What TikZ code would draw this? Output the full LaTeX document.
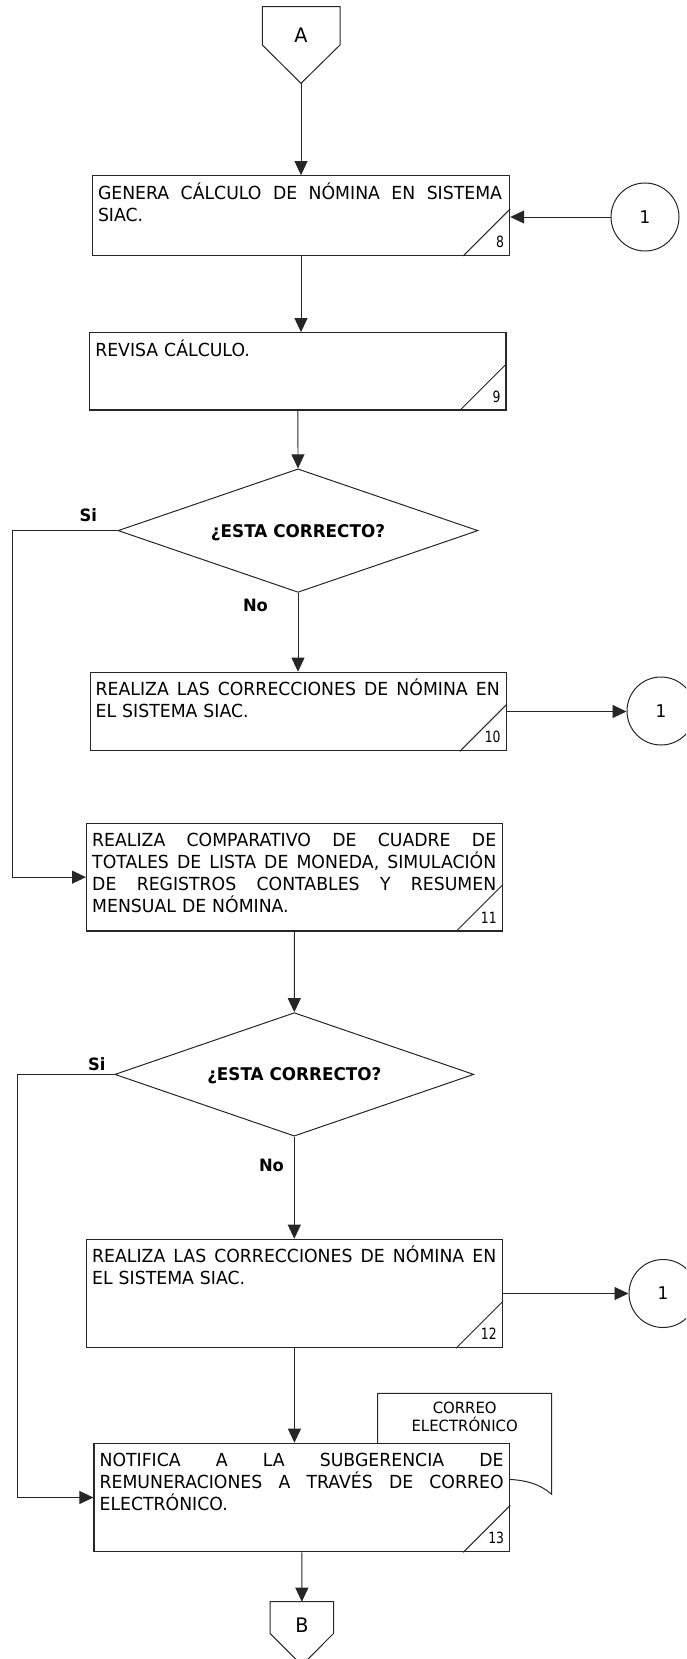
\documentclass[tikz,border=0pt]{standalone}
\usepackage{fontspec}
\setmainfont{DejaVu Sans}[FakeStretch=0.96]
\newfontfamily\numfont{DejaVu Sans}[FakeStretch=0.8]
\usetikzlibrary{arrows.meta,shapes.geometric}

\tikzset{
  ln/.style={line width=1pt, draw=black!85},
  arr/.style={line width=0.9pt, draw=black!85, -{Triangle[length=14pt,width=13pt]}},
  stepbox/.style={line width=1.2pt, draw=black!85, rectangle, fill=white, inner sep=0pt},
  decision/.style={ln, diamond, fill=white, inner sep=0pt},
  conn/.style={ln, circle, minimum size=68pt, inner sep=0pt, font=\fontsize{17.5}{20}\selectfont},
  boxtext/.style={anchor=north west, inner sep=0pt, align=left, text width=404pt,
                  font=\fontsize{18}{22}\selectfont},
  stepno/.style={anchor=base east, inner sep=0pt, font=\numfont\fontsize{15.5}{17}\selectfont},
  question/.style={anchor=base, inner sep=0pt, font=\bfseries\fontsize{17.5}{20}\selectfont},
  answer/.style={anchor=base, inner sep=0pt, font=\bfseries\fontsize{17}{20}\selectfont},
  letter/.style={anchor=base, inner sep=0pt, font=\fontsize{20}{24}\selectfont},
  doctext/.style={inner sep=0pt, align=center, font=\fontsize{15.5}{17.5}\selectfont},
}

% justified line of a step text (words separated by \hfill)
\newcommand\jl[1]{\leavevmode\hbox to 404pt{#1}}
% process box: name, left, top, right, bottom, step number, text
\newcommand\procbox[7]{%
  \node[stepbox, minimum width={(#4-#2)*1pt}, minimum height={(#5-#3)*1pt}]
    (#1) at ({(#2+#4)/2},{(#3+#5)/2}) {};
  \draw[ln] ([xshift=-47pt]#1.south east) -- ([yshift=47pt]#1.south east);
  \node[stepno] (#1n) at ([xshift=-6pt,yshift=8.5pt]#1.south east) {#6};
  \node[boxtext] (#1t) at ([xshift=6pt,yshift=-6pt]#1.north west)
    {\noindent\rule{0pt}{18pt}#7};
}

\begin{document}
\begin{tikzpicture}[x=1pt,y=-1pt]
\useasboundingbox (0,0) rectangle (686,1659);
\clip (0,0) rectangle (686,1659);

% off-page connector A
\draw[ln] (262.3,6.7) -- (340,6.7) -- (340,45) -- (301,83.3) -- (262.3,45) -- cycle;
\node[letter] (A) at (301,42.7) {A};
\coordinate (Atip) at (301,83.3);

% steps 8 and 9
\procbox{b8}{92.4}{175.7}{509.6}{255.3}{8}{\jl{GENERA\hfill CÁLCULO\hfill DE\hfill NÓMINA\hfill EN\hfill SISTEMA}\\SIAC.}
\procbox{b9}{89.7}{332.7}{506}{410}{9}{REVISA CÁLCULO.}

\node[conn] (c1) at (645,217) {1};

% first decision
\node[decision, minimum width=360pt, minimum height=123.5pt] (d1) at (298,530.6) {};
\node[question] (q1) at ([yshift=-6.5pt]d1.center) {¿ESTA CORRECTO?};
\node[answer] (si1) at (88.3,521.7) {Si};
\node[answer] (no1) at (255.5,611.7) {No};

\procbox{b10}{90.1}{672.3}{506.2}{750.7}{10}{\jl{REALIZA\hfill LAS\hfill CORRECCIONES\hfill DE\hfill NÓMINA\hfill EN}\\EL SISTEMA SIAC.}
\node[conn] (c2) at (661,711) {1};

\procbox{b11}{86.6}{823.3}{502.3}{931}{11}{\jl{REALIZA\hfill COMPARATIVO\hfill DE\hfill CUADRE\hfill DE}\\\jl{TOTALES\hfill DE\hfill LISTA\hfill DE\hfill MONEDA,\hfill SIMULACIÓN}\\\jl{DE\hfill REGISTROS\hfill CONTABLES\hfill Y\hfill RESUMEN}\\MENSUAL DE NÓMINA.}

% second decision
\node[decision, minimum width=359pt, minimum height=123.5pt] (d2) at (294.3,1074.4) {};
\node[question] (q2) at ([yshift=-6.5pt]d2.center) {¿ESTA CORRECTO?};
\node[answer] (si2) at (96.7,1070) {Si};
\node[answer] (no2) at (271.5,1171) {No};

\procbox{b12}{86.6}{1239.3}{502.3}{1347.7}{12}{\jl{REALIZA\hfill LAS\hfill CORRECCIONES\hfill DE\hfill NÓMINA\hfill EN}\\EL SISTEMA SIAC.}
\node[conn] (c3) at (663,1293.5) {1};

% document symbol behind step 13
\draw[ln, fill=white] (377.7,1393.3) -- (551.7,1393.3) -- (551.7,1494.3)
  .. controls (540,1484) and (525,1479.5) .. (505,1479.3) -- (377.7,1479.3) -- cycle;
\node[doctext] (doc) at (464.7,1417) {CORREO\\ELECTRÓNICO};

\procbox{b13}{94}{1443.3}{509.7}{1551.7}{13}{\jl{NOTIFICA\hfill A\hfill LA\hfill SUBGERENCIA\hfill DE}\\\jl{REMUNERACIONES\hfill A\hfill TRAVÉS\hfill DE\hfill CORREO}\\ELECTRÓNICO.}

% off-page connector B
\draw[ln] (270,1601.7) -- (333.7,1601.7) -- (333.7,1633.3) -- (301.85,1665.2) -- (270,1633.3) -- cycle;
\node[letter] (B) at (301.85,1632.7) {B};
\coordinate (Btop) at (301.85,1601.7);

% connectors
\coordinate (s1) at (12.7,530.6);
\coordinate (s2) at (17.5,1074.4);
\draw[arr] (Atip) -- (b8.north);
\draw[arr] (c1.west) -- (c1.west -| b8.east);
\draw[arr] (b8.south) -- (b8.south |- b9.north);
\draw[arr] (b9.south) -- (d1.north);
\draw[arr] (d1.south) -- (d1.south |- b10.north);
\draw[arr] (b10.east) -- (b10.east -| c2.west);
\draw[arr] (d1.west) -- (s1) |- (b11.west);
\draw[arr] (b11.south) -- (d2.north);
\draw[arr] (d2.south) -- (d2.south |- b12.north);
\draw[arr] (b12.east) -- (b12.east -| c3.west);
\draw[arr] (d2.west) -- (s2) |- (b13.west);
\draw[arr] (b12.south) -- (b12.south |- b13.north);
\draw[arr] (b13.south) -- (Btop);
\end{tikzpicture}
\end{document}
